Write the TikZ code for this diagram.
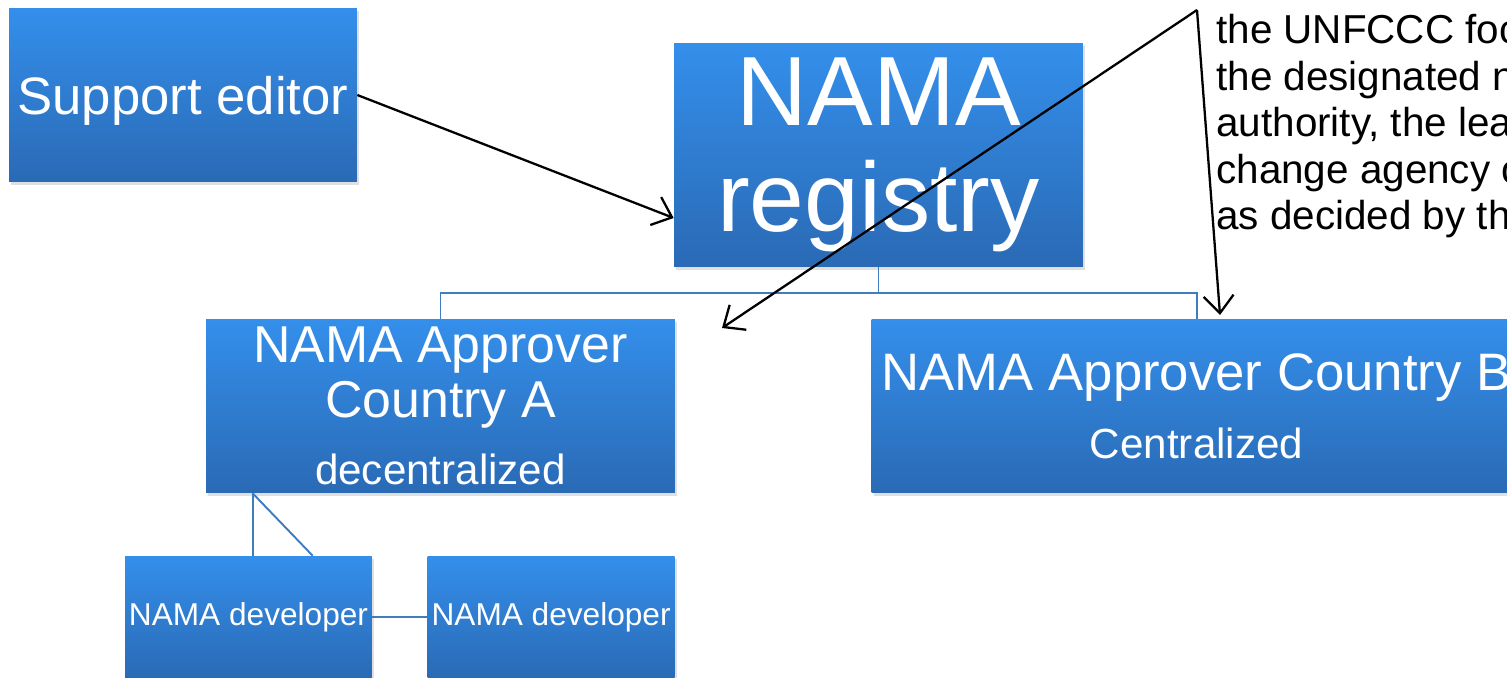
\documentclass[tikz,border=0pt]{standalone}
\usepackage{fontspec}
\setmainfont{Liberation Sans}
\usepackage{tikz}
\usetikzlibrary{arrows.meta,positioning,shadows}
\definecolor{nmtop}{RGB}{52,143,235}
\definecolor{nmbottom}{RGB}{42,106,181}
\definecolor{nmline}{RGB}{64,125,190}
\tikzstyle{pointer} = [line width=1.3pt,-{Straight Barb[length=3.5mm,width=6mm]},black]
\tikzstyle{link} = [line width=1.1pt,color=nmline]
\tikzstyle{nama} = [rectangle, top color=nmtop, bottom color=nmbottom, text=white, align=center, inner sep=0pt, drop shadow={shadow xshift=0.4mm,shadow yshift=-0.6mm,opacity=0.25}]

\begin{document}
\begin{tikzpicture}[x=0.02cm, y=-0.02cm]
\useasboundingbox (0,0) rectangle (1507,677);
\clip (0,0) rectangle (1507,677);

% Registry and editor
\node (editor) [nama, minimum width=6.96cm, minimum height=3.48cm, text depth=0pt, font=\fontsize{30}{32}\selectfont] at (183,95) {Support editor};
\node (registry) [nama, minimum width=8.18cm, minimum height=4.48cm, font=\fontsize{56}{60}\selectfont] at (878.5,155) {NAMA\\registry};

% Approvers
\node (apprA) [nama, minimum width=9.38cm, minimum height=3.48cm, font=\fontsize{29.5}{31.3}\selectfont] at (440.5,406) {NAMA Approver\\Country A\\[6.7pt]{\fontsize{24}{24}\selectfont decentralized}};
\node (apprB) [nama, right=3.92cm of apprA, minimum width=13cm, minimum height=3.48cm, font=\fontsize{30}{31.3}\selectfont] {NAMA Approver Country B\\[7.4pt]{\fontsize{24}{24}\selectfont Centralized}};

% Developers
\node (dev1) [nama, minimum width=4.94cm, minimum height=2.44cm, font=\fontsize{18}{20}\selectfont] at (248.5,617) {NAMA developer};
\node (dev2) [nama, right=1.1cm of dev1, minimum width=4.94cm, minimum height=2.44cm, font=\fontsize{18}{20}\selectfont] {NAMA developer};

% Note
\node (note) [anchor=north west, align=left, inner sep=0pt, font=\fontsize{23}{26.5}\selectfont] at (1216,14) {the UNFCCC focal\\the designated national\\authority, the lead\\change agency or\\as decided by the};

\draw[link] (registry.south) -- ++(0,26) -| (apprA.north);
\draw[link] (registry.south) -- ++(0,26) -| (apprB.north);
\draw[link] ([xshift=0.94cm]apprA.south west) -- ([xshift=0.94cm]apprA.south west |- dev1.north);
\draw[link] ([xshift=0.94cm]apprA.south west) -- ([xshift=3.76cm]dev1.north west);
\draw[link] (dev1) -- (dev2);

\coordinate (apex) at (1197,10);
\coordinate (tipA) at (722,328);
\coordinate (tipB) at (1220,315);
\draw[pointer] (editor.east) -- ([yshift=-1.26cm]registry.west);
\draw[pointer] (apex) -- (tipA);
\draw[pointer] (apex) -- (tipB);
\end{tikzpicture}
\end{document}
